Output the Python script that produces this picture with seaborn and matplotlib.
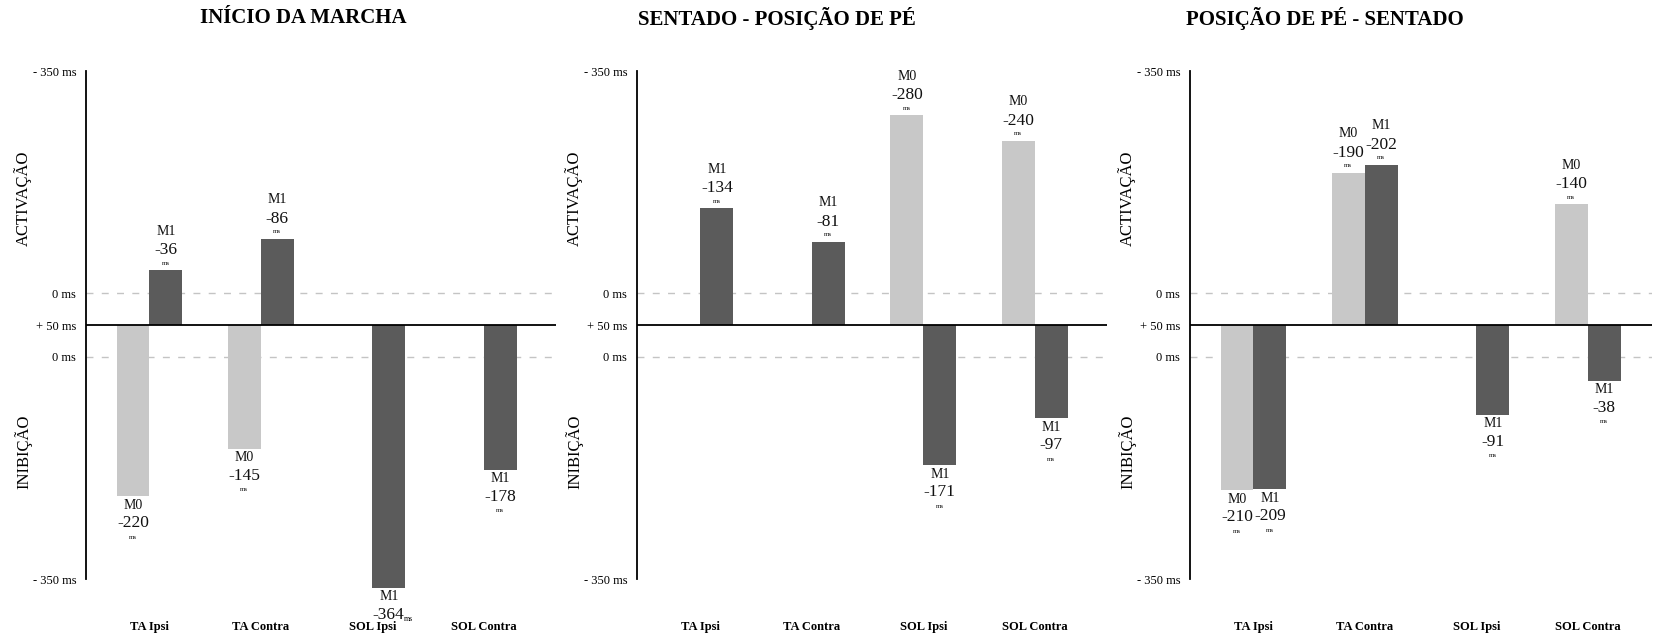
import numpy as np
import pandas as pd
import matplotlib
matplotlib.use("Agg")
import matplotlib.pyplot as plt
import seaborn as sns

# ---------------- data ----------------
muscles = ["TA Ipsi", "TA Contra", "SOL Ipsi", "SOL Contra"]
titles = ["INÍCIO DA MARCHA", "SENTADO - POSIÇÃO DE PÉ", "POSIÇÃO DE PÉ - SENTADO"]
conditions = ["M0", "M1"]

# onset latencies (ms); None = no response. direction: +1 activation, -1 inhibition
p1_m0 = [-220, -145, None, None]
p1_m0_dir = [-1, -1, 0, 0]
p1_m1 = [-36, -86, -364, -178]
p1_m1_dir = [1, 1, -1, -1]

p2_m0 = [None, None, -280, -240]
p2_m0_dir = [0, 0, 1, 1]
p2_m1 = [-134, -81, -171, -97]
p2_m1_dir = [1, 1, -1, -1]

p3_m0 = [-210, -190, None, -140]
p3_m0_dir = [-1, 1, 0, 1]
p3_m1 = [-209, -202, -91, -38]
p3_m1_dir = [-1, 1, -1, -1]

panels = [
    (p1_m0, p1_m0_dir, p1_m1, p1_m1_dir),
    (p2_m0, p2_m0_dir, p2_m1, p2_m1_dir),
    (p3_m0, p3_m0_dir, p3_m1, p3_m1_dir),
]

ytick_vals = [400, 50, 0, -50, -400]
ytick_labels = ["- 350 ms", "0 ms", "+ 50 ms", "0 ms", "- 350 ms"]

colors = {"M0": "#c8c8c8", "M1": "#5b5b5b"}

# ---------------- style ----------------
sns.set_style("white")
plt.rcParams["font.family"] = ["Liberation Serif", "DejaVu Serif"]
plt.rcParams["text.color"] = "black"
plt.rcParams["xtick.color"] = "black"
plt.rcParams["ytick.color"] = "black"

W, H = 1654, 638
fig = plt.figure(figsize=(W / 100, H / 100), dpi=100)

ax_left_px = [86, 637, 1190]
xlims = [(-0.57, 3.65), (-0.57, 3.65), (-0.57, 3.58)]
top_px, bot_px = 71, 579
title_x_px = [303, 777, 1325]

for k, (m0, m0d, m1, m1d) in enumerate(panels):
    rows = []
    for i, mus in enumerate(muscles):
        for cond, vals, dirs in (("M0", m0, m0d), ("M1", m1, m1d)):
            v = vals[i]
            if v is None:
                continue
            d = dirs[i]
            rows.append({"muscle": mus, "cond": cond, "value": v,
                         "height": d * (abs(v) + 50)})
    df = pd.DataFrame(rows)

    x0, x1 = xlims[k]
    width_px = (x1 - x0) * 111.4
    ax = fig.add_axes([ax_left_px[k] / W, 1 - bot_px / H,
                       width_px / W, (bot_px - top_px) / H])

    for yy in (50, -50):
        ax.axhline(yy, color="#c4c4c4", lw=1.0, ls=(0, (5, 6)), zorder=0)

    sns.barplot(data=df, x="muscle", y="height", hue="cond",
                order=muscles, hue_order=conditions, palette=colors,
                width=0.59, errorbar=None, linewidth=0, saturation=1,
                legend=False, ax=ax, zorder=2)

    ax.axhline(0, color="black", lw=1.3, zorder=3)

    # annotations
    for ci, cont in enumerate(ax.containers):
        cond = conditions[ci]
        for bar in cont:
            h = bar.get_height()
            if h is None or np.isnan(h) or h == 0:
                continue
            bar.set_clip_on(False)
            xc = bar.get_x() + bar.get_width() / 2
            val = -(abs(h) - 50)
            num = f"{int(round(val))}"
            if h > 0:
                offs = [(39, cond, 10), (20, num, 12.5), (7, "ms", 5)]
            else:
                offs = [(-9, cond, 10), (-27, num, 12.5), (-41, "ms", 5)]
            inline_ms = h < -400
            for dy, txt, fs in offs:
                if inline_ms and txt == "ms":
                    ax.annotate("ms", xy=(xc, h), xytext=(15, -31),
                                textcoords="offset pixels", ha="left",
                                va="center", fontsize=5.5, annotation_clip=False)
                    continue
                ax.annotate(txt, xy=(xc, h), xytext=(0, dy),
                            textcoords="offset pixels", ha="center",
                            va="center", fontsize=fs, color="#111111",
                            annotation_clip=False)

    ax.set_xlim(x0, x1)
    ax.set_ylim(-400, 400)
    ax.set_yticks(ytick_vals)
    ax.set_yticklabels(ytick_labels, fontsize=9)
    ax.set_xticks(range(len(muscles)))
    ax.set_xticklabels(muscles, fontsize=9, fontweight="bold")
    ax.tick_params(axis="y", length=0, pad=7)
    ax.tick_params(axis="x", length=0, pad=30)
    ax.set_xlabel("")
    ax.set_ylabel("")
    for s in ("top", "right", "bottom"):
        ax.spines[s].set_visible(False)
    ax.spines["left"].set_color("black")
    ax.spines["left"].set_linewidth(1.3)

    xoff = -63 / width_px
    ax.text(xoff, 200, "ACTIVAÇÃO", transform=ax.get_yaxis_transform(),
            rotation=90, ha="center", va="center", fontsize=12)
    ax.text(xoff, -200, "INIBIÇÃO", transform=ax.get_yaxis_transform(),
            rotation=90, ha="center", va="center", fontsize=12)

    fig.text(title_x_px[k] / W, 1 - 18 / H, titles[k], ha="center",
             va="center", fontsize=15, fontweight="bold")

fig.savefig("out.png", dpi=100)
